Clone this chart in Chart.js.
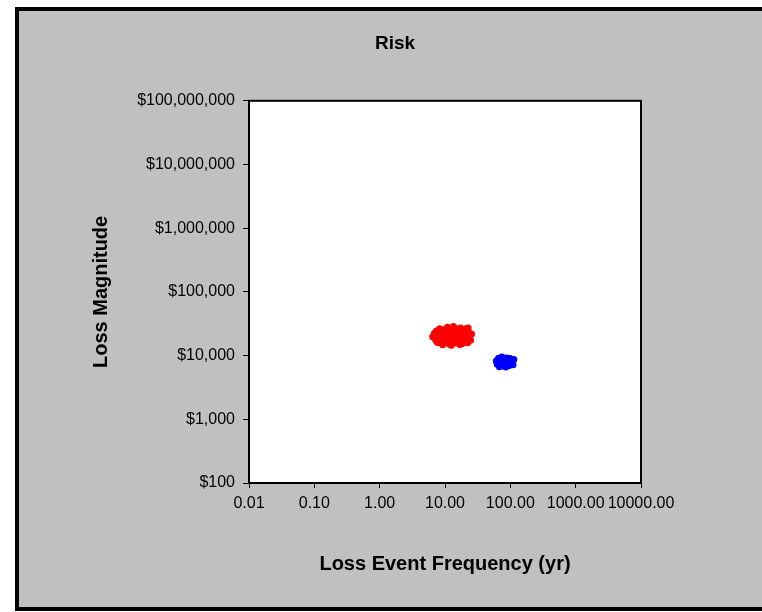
<!DOCTYPE html>
<html>
<head>
<meta charset="utf-8">
<script src="https://cdn.jsdelivr.net/npm/chart.js@4/dist/chart.umd.min.js"></script>
<style>
  body { margin: 0; background: #fff; overflow: hidden; width: 762px; height: 612px; }
  #frame { position: absolute; left: 15px; top: 7px; width: 800px; height: 596px; border: 4px solid #000; background: #c0c0c0; }
  #riskChart { position: absolute; left: 28px; top: 0; }
</style>
</head>
<body>
<div id="frame"></div>
<canvas id="riskChart" width="734" height="612"></canvas>
<script>
const xTicks = [0.01, 0.1, 1, 10, 100, 1000, 10000];
const yTicks = [100, 1000, 10000, 100000, 1000000, 10000000, 100000000];

// red scenario: loss event frequency (per yr) and loss magnitude ($)
const redLEF = [6.5, 6.9, 7.2, 7.4, 7.8, 8.1, 8.3, 8.6, 8.9, 9.2, 9.5, 9.8, 10.2, 10.5, 10.9, 11.3, 11.6, 12.0, 12.4, 12.8,
  13.1, 13.5, 13.9, 14.3, 14.8, 15.2, 15.7, 16.1, 16.6, 17.2, 17.7, 18.3, 18.9, 19.5, 20.1, 20.8, 21.5, 22.2, 23.0, 23.8,
  24.6, 25.5, 11.0, 15.0, 9.0, 19.0, 12.5, 16.8, 7.6, 22.6];
const redLM = [19800, 22400, 17600, 24300, 20600, 15900, 26500, 18700, 22100, 14800, 25400, 19300, 16800, 23200, 27800, 21000, 15200, 18900, 24800, 17300,
  22700, 28600, 15800, 20300, 25900, 18100, 23600, 16400, 21400, 27200, 19600, 15400, 24100, 17900, 22800, 26400, 19000, 15900, 23300, 20700,
  17400, 21800, 19800, 21000, 20000, 21000, 14600, 14900, 16200, 27000];

// blue scenario
const blueLEF = [61, 63, 66, 68, 70, 72, 74, 76, 78, 80, 83, 85, 88, 90, 93, 96, 99, 102, 106, 110, 113, 75, 95, 84];
const blueLM = [8200, 7300, 9100, 6700, 8500, 7700, 9500, 6900, 8100, 7300, 8800, 6600, 9200, 7800, 8400, 7000, 9000, 7500, 8300, 7200, 8700, 8000, 8000, 7700];

const FONT = "'Liberation Sans', Arial, sans-serif";

const plotBox = {
  id: 'plotBox',
  beforeDraw(chart) {
    const { ctx, chartArea: a } = chart;
    ctx.save();
    ctx.fillStyle = '#fff';
    ctx.fillRect(a.left, a.top, a.right - a.left, a.bottom - a.top);
    ctx.restore();
  },
  afterDraw(chart) {
    const { ctx, chartArea: a } = chart;
    ctx.save();
    ctx.strokeStyle = '#000';
    ctx.lineWidth = 2;
    ctx.strokeRect(a.left, a.top, a.right - a.left, a.bottom - a.top);
    ctx.restore();
  }
};

new Chart(document.getElementById('riskChart'), {
  type: 'scatter',
  data: {
    datasets: [
      {
        label: 'Red',
        data: redLEF.map((x, i) => ({ x: x, y: redLM[i] })),
        backgroundColor: '#ff0000',
        borderWidth: 0,
        pointRadius: 3.5
      },
      {
        label: 'Blue',
        data: blueLEF.map((x, i) => ({ x: x, y: blueLM[i] })),
        backgroundColor: '#0000ff',
        borderWidth: 0,
        pointRadius: 3.5
      }
    ]
  },
  options: {
    responsive: false,
    animation: false,
    layout: { padding: 0 },
    plugins: {
      legend: { display: false },
      tooltip: { enabled: false },
      title: {
        display: true,
        text: 'Risk',
        color: '#000',
        font: { family: FONT, size: 19, weight: 'bold' },
        padding: { top: 32, bottom: 46 }
      }
    },
    scales: {
      x: {
        type: 'logarithmic',
        position: 'bottom',
        min: 0.01,
        max: 10000,
        afterFit: s => { s.height = 129; },
        afterBuildTicks: s => { s.ticks = xTicks.map(v => ({ value: v })); },
        border: { display: false },
        grid: { drawOnChartArea: false, color: '#000', tickLength: 5 },
        ticks: {
          autoSkip: false,
          maxRotation: 0,
          minRotation: 0,
          padding: 6,
          color: '#000',
          font: { family: FONT, size: 16 },
          callback: v => Number(v).toFixed(2)
        },
        title: {
          display: true,
          text: 'Loss Event Frequency (yr)',
          color: '#000',
          font: { family: FONT, size: 20, weight: 'bold' },
          padding: { bottom: 36 }
        }
      },
      y: {
        type: 'logarithmic',
        position: 'left',
        min: 100,
        max: 100000000,
        afterFit: s => { s.width = 221; },
        afterBuildTicks: s => { s.ticks = yTicks.map(v => ({ value: v })); },
        border: { display: false },
        grid: { drawOnChartArea: false, color: '#000', tickLength: 6 },
        ticks: {
          padding: 8,
          color: '#000',
          font: { family: FONT, size: 16 },
          callback: v => '$' + Number(v).toLocaleString('en-US')
        },
        title: {
          display: true,
          text: 'Loss Magnitude',
          color: '#000',
          font: { family: FONT, size: 20, weight: 'bold' },
          padding: { top: 61 }
        }
      },
      // empty spacer on the right so the plot ends where the reference does
      spacer: {
        type: 'linear',
        position: 'right',
        afterFit: s => { s.width = 121; },
        border: { display: false },
        grid: { display: false },
        ticks: { display: false }
      }
    }
  },
  plugins: [plotBox]
});
</script>
</body>
</html>
